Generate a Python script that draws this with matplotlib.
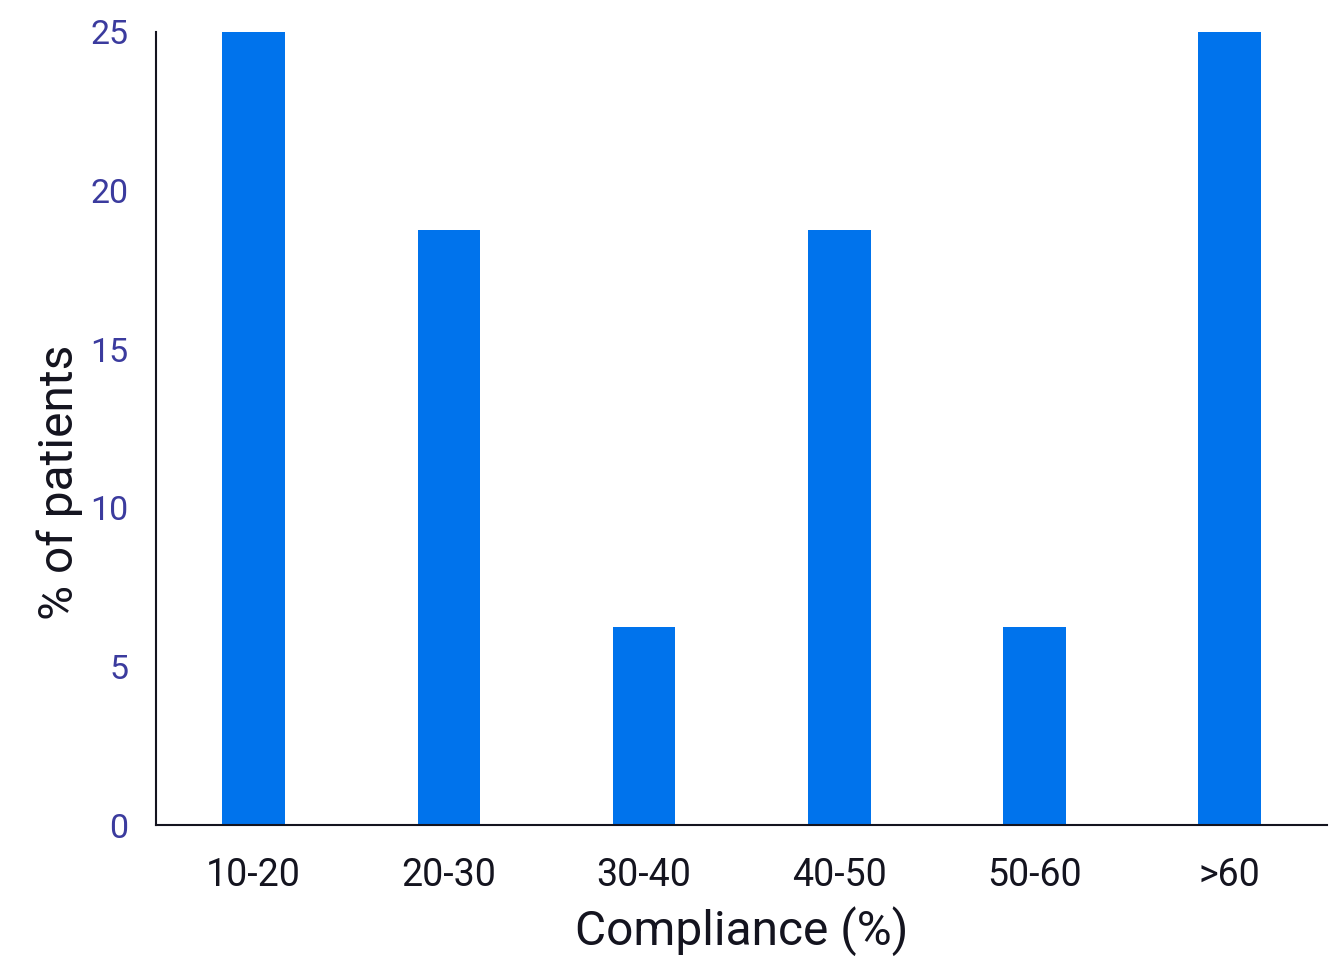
import matplotlib
matplotlib.use("Agg")
import matplotlib.pyplot as plt

# Data
categories = ['10-20', '20-30', '30-40', '40-50', '50-60', '>60']
patients_pct = [25, 18.75, 6.25, 18.75, 6.25, 25]
y_ticks = [0, 5, 10, 15, 20, 25]

plt.rcParams['font.family'] = ['Roboto', 'DejaVu Sans']

fig = plt.figure(figsize=(13.34, 9.58), dpi=100)
ax = fig.add_axes([0.117, 0.1388, 0.878, 0.8278])

x = range(len(categories))
ax.bar(x, patients_pct, width=0.32, color='#0073ec')

ax.set_xlim(-0.5, len(categories) - 0.5)
ax.set_ylim(0, 25)
ax.set_yticks(y_ticks)
ax.set_xticks(list(x))
ax.set_xticklabels(categories)

ax.tick_params(axis='y', length=0, pad=20, labelsize=24.5, labelcolor='#3b3b9e')
ax.tick_params(axis='x', length=0, pad=23, labelsize=27, labelcolor='#14141f')

for s in ['top', 'right']:
    ax.spines[s].set_visible(False)
for s in ['left', 'bottom']:
    ax.spines[s].set_color('#14141f')
    ax.spines[s].set_linewidth(1.5)

ax.set_xlabel('Compliance (%)', fontsize=34.5, color='#14141f', labelpad=9)
ax.set_ylabel('% of patients', fontsize=34.5, color='#14141f')
ax.yaxis.set_label_coords(-0.062, 0.4326)

fig.savefig('out.png', dpi=100)
